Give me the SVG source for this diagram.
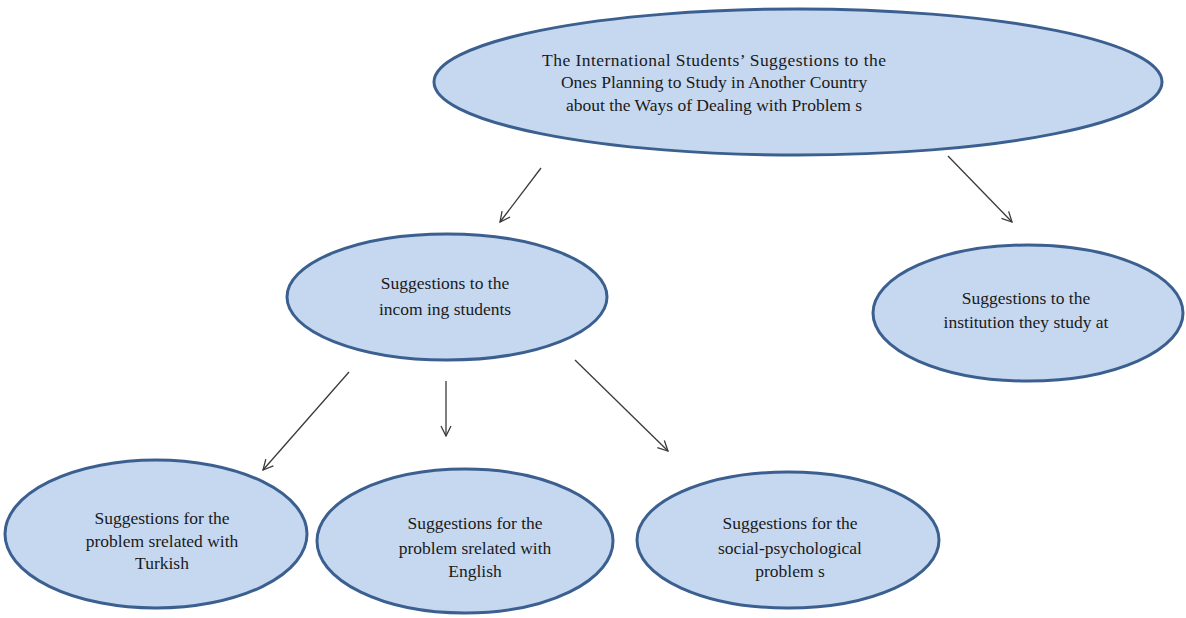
<svg xmlns="http://www.w3.org/2000/svg" width="1186" height="618" viewBox="0 0 1186 618">
<style>
.n{fill:#c6d8f0;stroke:#3b6090;stroke-width:3}
.t{font-family:"Liberation Serif","Times New Roman",serif;font-size:17.5px;fill:#1a1a1a;text-anchor:middle}
.c{stroke:#3a3a3a;stroke-width:1.3;fill:none;marker-end:url(#ah)}
</style>
<defs>
<marker id="ah" viewBox="0 0 12 12" refX="11" refY="6" markerWidth="12" markerHeight="12" markerUnits="userSpaceOnUse" orient="auto">
<path d="M1,1 L11,6 L1,11" fill="none" stroke="#3a3a3a" stroke-width="1.3"/>
</marker>
</defs>
<rect width="1186" height="618" fill="#ffffff"/>
<g id="connectors">
<line class="c" x1="541" y1="168" x2="500" y2="222"/>
<line class="c" x1="948" y1="156" x2="1012" y2="222"/>
<line class="c" x1="349" y1="372" x2="263" y2="470"/>
<line class="c" x1="446" y1="381" x2="446" y2="436"/>
<line class="c" x1="575" y1="360" x2="668" y2="451"/>
</g>
<g id="root">
<ellipse class="n" cx="798" cy="82" rx="364" ry="73"/>
<text class="t" x="714" y="66" textLength="344" lengthAdjust="spacing">The International Students’ Suggestions to the</text>
<text class="t" x="714" y="88">Ones Planning to Study in Another Country</text>
<text class="t" x="714" y="111">about the Ways of Dealing with Problem s</text>
</g>
<g id="incoming">
<ellipse class="n" cx="447" cy="297" rx="160" ry="63"/>
<text class="t" x="445" y="289">Suggestions to the</text>
<text class="t" x="445" y="315">incom ing students</text>
</g>
<g id="institution">
<ellipse class="n" cx="1028" cy="313" rx="155" ry="68"/>
<text class="t" x="1026" y="304">Suggestions to the</text>
<text class="t" x="1026" y="328">institution they study at</text>
</g>
<g id="turkish">
<ellipse class="n" cx="156" cy="534" rx="151" ry="74"/>
<text class="t" x="162" y="524">Suggestions for the</text>
<text class="t" x="162" y="547">problem srelated with</text>
<text class="t" x="162" y="569">Turkish</text>
</g>
<g id="english">
<ellipse class="n" cx="465" cy="541" rx="148" ry="72"/>
<text class="t" x="475" y="529">Suggestions for the</text>
<text class="t" x="475" y="554">problem srelated with</text>
<text class="t" x="475" y="577">English</text>
</g>
<g id="social">
<ellipse class="n" cx="788" cy="540" rx="151" ry="68"/>
<text class="t" x="790" y="529">Suggestions for the</text>
<text class="t" x="790" y="554">social-psychological</text>
<text class="t" x="790" y="577">problem s</text>
</g>
</svg>
